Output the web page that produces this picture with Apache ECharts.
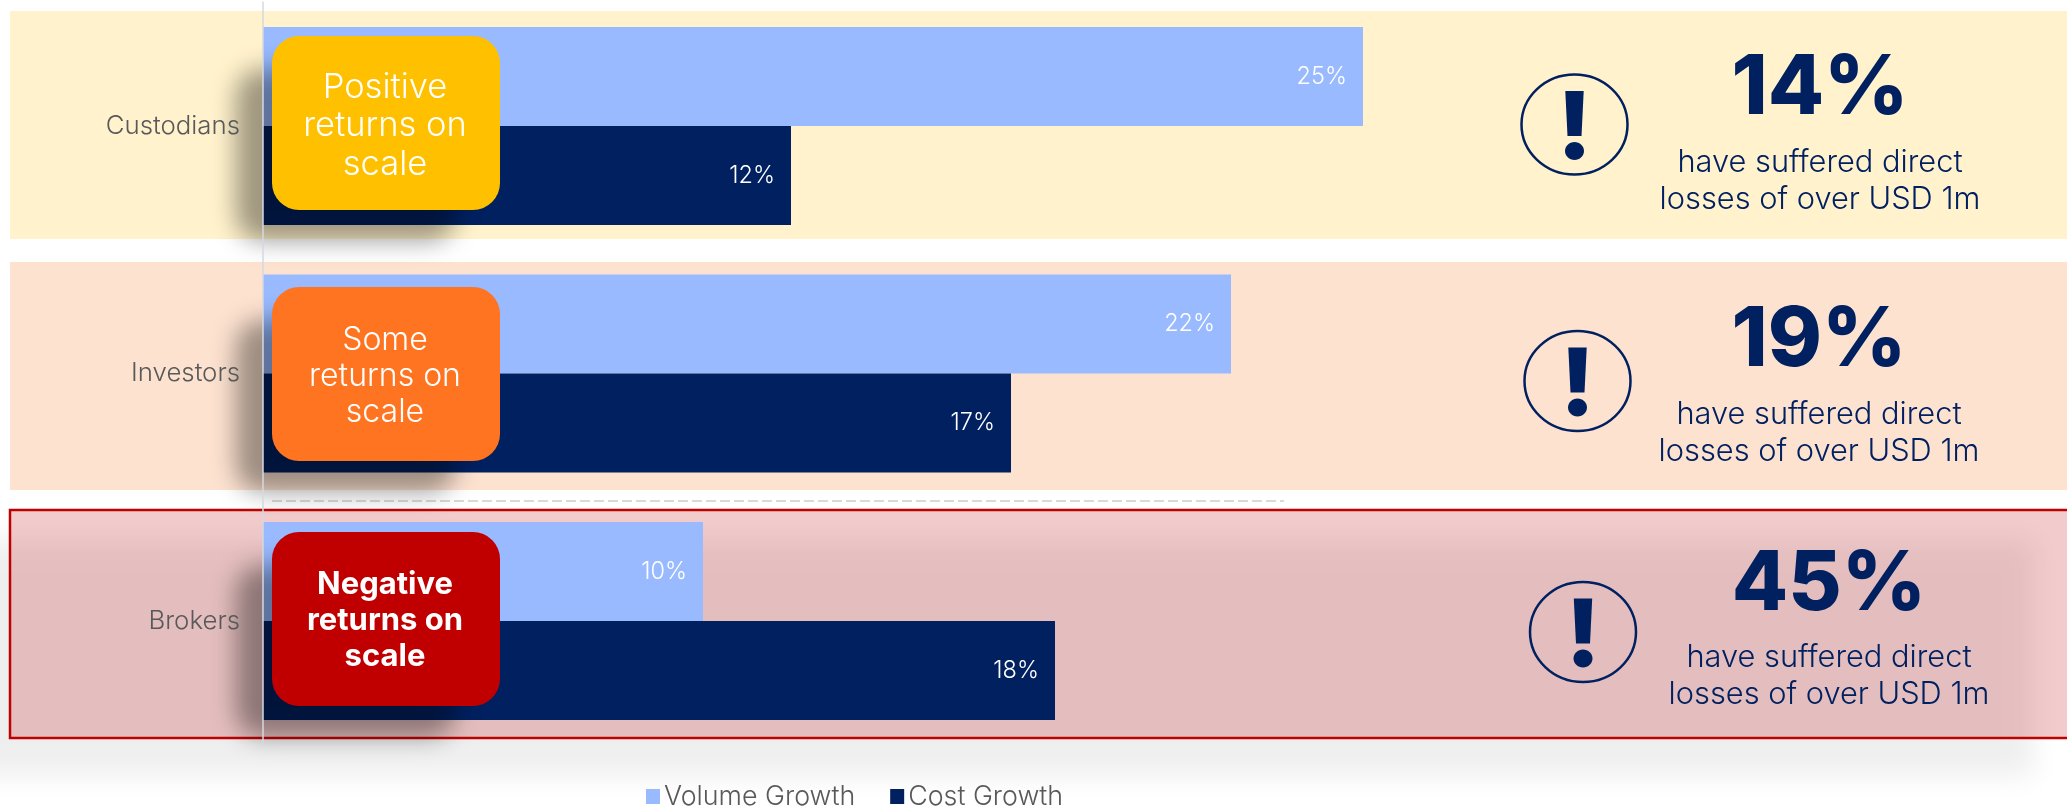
<!DOCTYPE html>
<html>
<head>
<meta charset="utf-8">
<style>html,body{margin:0;padding:0;background:#fff;overflow:hidden}#chart{width:2067px;height:808px}</style>
<script src="https://cdn.jsdelivr.net/npm/echarts@6/dist/echarts.min.js"></script>
</head>
<body>
<div id="chart"></div>
<script>
// Chart data
const categories = ['Custodians', 'Investors', 'Brokers'];
const volumeGrowth = [25, 22, 10];
const costGrowth = [12, 17, 18];
const directLosses = ['14%', '19%', '45%'];
const returnNotes = ['Positive\nreturns on\nscale', 'Some\nreturns on\nscale', 'Negative\nreturns on\nscale'];
const lossCaption = 'have suffered direct\nlosses of over USD 1m';

// Layout and palette
const FONT = 'Inter, "Open Sans", sans-serif';
const NAVY = '#002060';
const LIGHT = '#99BAFF';
const grey = '#595959';
const bands = [
  { y: 11, h: 228, fill: '#FFF2CC' },
  { y: 262, h: 228, fill: '#FDE2D0' },
  { y: 510, h: 228, fill: 'rgba(192,0,0,0.2)' }
];
const notes = [
  { y: 36, h: 174, fill: '#FFC000', weight: 300, size: 34.5, lh: 38.5, dy: 3 },
  { y: 287, h: 174, fill: '#FF7420', weight: 300, size: 32, lh: 36, dy: 2 },
  { y: 532, h: 174, fill: '#C00000', weight: 700, size: 31, lh: 36, dy: 2 }
];
const panels = [
  { cx: 1574.5, cy: 124.5, tx: 1820, big: 89, sub: 181 },
  { cx: 1577.5, cy: 381, tx: 1819, big: 341, sub: 433 },
  { cx: 1583, cy: 632, tx: 1829, big: 585, sub: 676 }
];
// A rectangle parked off-canvas throws only its blurred shadow onto the page
const OFFSCREEN = 4000;
const shadowOnly = (x, y, w, h, r, color, blur, z) => ({
  type: 'rect', z,
  shape: { x: x - OFFSCREEN, y, width: w, height: h, r },
  style: { fill: '#000', shadowBlur: blur, shadowOffsetX: OFFSCREEN, shadowColor: color }
});

const graphics = [];

// Soft grey block behind the highlighted row
graphics.push(shadowOnly(-80, 540, 2114, 236, 0, 'rgba(0,0,0,0.065)', 26, 0));

bands.forEach(b => graphics.push({
  type: 'rect', z: 0,
  shape: { x: 10, y: b.y, width: 2067, height: b.h },
  style: { fill: b.fill }
}));

// Red frame around the highlighted row
graphics.push({
  type: 'rect', z: 0,
  shape: { x: 10, y: 510, width: 2067, height: 228 },
  style: { fill: 'transparent', stroke: '#C00000', lineWidth: 2.5 }
});

// Divider between the positive rows and the negative row
graphics.push({
  type: 'line', z: 1,
  shape: { x1: 272, y1: 501, x2: 1284, y2: 501 },
  style: { stroke: '#D9D9D9', lineWidth: 2, lineDash: [10, 4] }
});

notes.forEach((n, i) => {
  graphics.push(shadowOnly(236, n.y + 33, 220, 172, 27, 'rgba(0,0,0,0.38)', 24, 20));
  graphics.push({
    type: 'rect', z: 21,
    shape: { x: 272, y: n.y, width: 228, height: n.h, r: 27 },
    style: { fill: n.fill }
  });
  graphics.push({
    type: 'text', z: 22,
    style: {
      text: returnNotes[i], x: 385, y: n.y + n.h / 2 + n.dy,
      align: 'center', verticalAlign: 'middle',
      fill: '#fff', lineHeight: n.lh,
      font: `${n.weight} ${n.size}px ${FONT}`
    }
  });
});

panels.forEach((p, i) => {
  graphics.push({
    type: 'ellipse', z: 5,
    shape: { cx: p.cx, cy: p.cy, rx: 53, ry: 50 },
    style: { fill: 'transparent', stroke: NAVY, lineWidth: 2.5 }
  });
  graphics.push({
    type: 'polygon', z: 5,
    shape: { points: [[p.cx - 9.2, p.cy - 33.5], [p.cx + 9.2, p.cy - 33.5], [p.cx + 7, p.cy + 11.5], [p.cx - 7, p.cy + 11.5]] },
    style: { fill: NAVY }
  });
  graphics.push({
    type: 'ellipse', z: 5,
    shape: { cx: p.cx, cy: p.cy + 26.5, rx: 9.5, ry: 9 },
    style: { fill: NAVY }
  });
  graphics.push({
    type: 'text', z: 5,
    style: {
      text: directLosses[i], x: p.tx, y: p.big,
      align: 'center', verticalAlign: 'middle',
      fill: NAVY, font: `800 82px ${FONT}`
    }
  });
  graphics.push({
    type: 'text', z: 5,
    style: {
      text: lossCaption, x: p.tx, y: p.sub,
      align: 'center', verticalAlign: 'middle',
      fill: NAVY, lineHeight: 37, font: `300 30.8px ${FONT}`
    }
  });
});

const barLabel = {
  show: true, position: 'insideRight', distance: 16,
  formatter: '{c}%', color: '#fff', fontFamily: FONT, fontWeight: 300, fontSize: 23.5,
  padding: [4, 0, 0, 0]
};

const chart = echarts.init(document.getElementById('chart'), null, { renderer: 'canvas' });
chart.setOption({
  animation: false,
  backgroundColor: '#fff',
  textStyle: { fontFamily: FONT },
  graphic: { elements: graphics },
  legend: {
    data: ['Volume Growth', 'Cost Growth'],
    left: 646, top: 783, padding: 0,
    icon: 'rect', itemWidth: 14, itemHeight: 15, itemGap: 35,
    textStyle: { color: grey, fontFamily: FONT, fontWeight: 300, fontSize: 26.8, padding: [0, 0, 0, -1] }
  },
  grid: { left: 263, top: 2.25, width: 1760, height: 742.5 },
  xAxis: { type: 'value', min: 0, max: 40, show: false },
  yAxis: {
    type: 'category', inverse: true, data: categories, z: 25,
    axisLine: { show: true, lineStyle: { color: '#D5D8DF', width: 1.5 } },
    axisTick: { show: false },
    axisLabel: { color: grey, fontFamily: FONT, fontWeight: 300, fontSize: 25.8, margin: 23, padding: [3, 0, 0, 0] }
  },
  series: [
    { name: 'Volume Growth', type: 'bar', z: 3, data: volumeGrowth, barCategoryGap: '20%', barGap: 0, itemStyle: { color: LIGHT }, label: barLabel },
    { name: 'Cost Growth', type: 'bar', z: 3, data: costGrowth, barCategoryGap: '20%', barGap: 0, itemStyle: { color: NAVY }, label: barLabel }
  ]
});
</script>
</body>
</html>
